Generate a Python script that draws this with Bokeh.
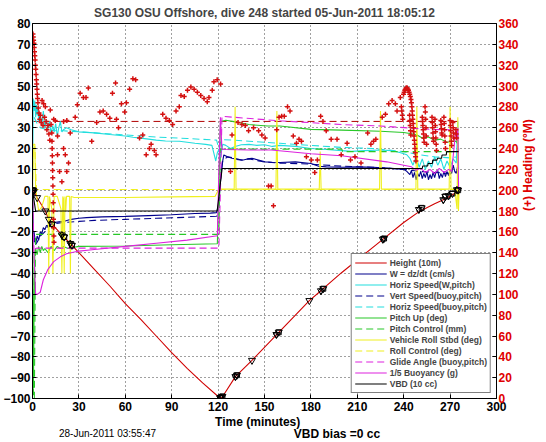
import math
from bokeh.plotting import figure
from bokeh.layouts import column
from bokeh.models import Range1d, LinearAxis, FixedTicker, Legend, LegendItem
from bokeh.core.properties import value
from bokeh.embed import file_html
from bokeh.resources import INLINE

FONT = "Liberation Sans"

# ---------------- data ----------------
title_text = "SG130 OSU Offshore, dive 248 started 05-Jun-2011 18:05:12"
xlabel_text = "Time (minutes)"
date_text = "28-Jun-2011 03:55:47"
vbd_text = "VBD bias =0 cc"
x_ticks = [0, 30, 60, 90, 120, 150, 180, 210, 240, 270, 300]
y_ticks = [-100, -90, -80, -70, -60, -50, -40, -30, -20, -10, 0, 10, 20, 30, 40, 50, 60, 70, 80]
h_ticks = [0, 20, 40, 60, 80, 100, 120, 140, 160, 180, 200, 220, 240, 260, 280, 300, 320, 340, 360]

# Height (10 m)
ht_t = [0, 0.5, 3, 8.3, 10.5, 12.6, 19, 24.4, 30, 40, 50, 60, 70, 80, 90, 100, 110, 121.5, 122.5,
        131.2, 141.9, 158.8, 179, 187, 200, 226.5, 240, 250.2, 260, 267.7, 272, 275.2]
ht_v = [0, 0, -3.6, -10, -14, -16.3, -21.5, -25.6, -30, -38, -46, -54.5, -62, -70, -78, -85.5, -92.5, -100, -99.5,
        -89.5, -81.7, -68.6, -53, -47.9, -39.5, -23.6, -15.5, -10.2, -6.5, -3.9, -2, 0]

# GC markers on the height trace
gc_t = [0.3, 0.8, 3, 8.3, 10.5, 12.6, 19, 20.5, 24.4, 25.5, 121.3, 122, 122.8, 131.2, 132.2, 141.9, 157.7, 159.2,
        179, 186.5, 188, 226.5, 227.3, 249.8, 251.6, 265.6, 266.9, 269, 271.5, 274.4, 275.2]
gc_v = [0, -0.5, -3.6, -10, -14, -16.3, -21.5, -22.5, -25.6, -26.5, -99.7, -99.5, -99, -89.5, -88.8, -81.7, -69.3, -68.2,
        -53, -48.3, -47.3, -23.6, -23.2, -9.3, -8.5, -4.6, -3.0, -2.7, -1.6, 0.2, 0]
sq_t = [0.3, 12.6, 20.5, 25.5, 121.3, 122.8, 132.2, 159.2, 188, 227.3, 251.6, 266.9, 271.5, 275.2]
sq_v = [0, -16.3, -22.5, -26.5, -99.7, -99, -88.8, -68.2, -47.3, -23.2, -8.5, -3.0, -1.6, 0]
dm_t = [0.8, 19, 24.4, 122, 131.2, 157.7, 186.5, 226.5, 249.8, 265.6, 269, 274.4]
dm_v = [-0.5, -21.5, -25.6, -99.5, -89.5, -69.3, -48.3, -23.6, -9.3, -4.6, -2.7, 0.2]

# W = dz/dt (cm/s)
w_t = [0, 0.4, 1, 1.5, 2, 3, 4, 5, 6, 7, 8, 9, 10, 11, 12, 14, 17, 20, 25, 30,
       35, 45, 60, 75, 90, 105, 115, 119, 120.5, 121.5, 122.5, 123.7, 126, 129, 132, 135.5, 139, 141.9, 146, 150.4,
       155, 160, 170, 180, 185, 190, 200, 210, 220, 230, 240, 242, 244,
       245, 246, 247, 248, 249, 250, 251, 252, 253, 254, 255, 256, 257, 258, 259, 260,
       261, 262, 263, 264, 265, 266, 267, 268, 269, 270, 271, 272, 273, 274, 275, 275.5]
w_v = [0, -18, -25, -23, -26, -22, -24, -20, -21, -18, -19, -17, -17, -16, -16.5, -15.5, -15.2, -15, -14, -13.5,
       -13.2, -12.8, -12.6, -12.2, -11.8, -11.2, -11, -10.8, -6, 4, 12, 16.9, 16, 15.3, 14.8, 14.4, 15, 15.3, 14.5, 13.6,
       13.4, 13.3, 13.6, 12.8, 11.5, 11.2, 11, 11.2, 11, 10.6, 10, 9, 7.5,
       9.5, 6, 8.5, 5, 8, 6.5, 9, 5.5, 8, 6, 9, 5, 7.5, 5.5, 8.5, 6,
       9, 9.5, 5.5, 8, 6, 9, 6.5, 9, 7, 10, 8, 12, 9, 8, 12, 20]

# Horiz speed (W, pitch)
hs_t = [0, 0.5, 1, 1.5, 2, 2.5, 3, 3.5, 4, 5, 6, 7, 8, 9, 10, 11, 12, 13, 14, 15,
        16, 17, 18, 19, 20, 22, 25, 30, 40, 50, 60, 65, 70, 80, 86, 95, 105, 112, 116, 117.5,
        118.5, 119.5, 120.5, 121.5, 123, 125, 128, 131, 135, 140, 145, 150, 155, 160, 170, 180, 190, 200, 206, 215,
        225, 232, 238, 242, 244, 246, 248, 250, 252, 254, 256, 258, 260, 262, 264, 266, 268, 270, 272, 274, 275, 275.5]
hs_v = [0, 44, 38, 43, 35, 41, 36, 40, 33, 37, 31, 38, 30, 34, 29, 33, 27, 31, 28, 32,
        26, 30, 33, 28, 29, 30, 29, 28, 27.5, 26.7, 26, 25.4, 25, 24, 23.6, 23.5, 22.5, 22, 21.5, 17,
        14, 18, 19.5, 16, 22, 21.5, 20, 21, 21.8, 22, 21.5, 21.8, 21, 21.5, 21, 20, 19.5, 19, 18.6, 19,
        19.3, 19, 18, 17, 15.3, 12, 16, 11, 15, 10, 14, 11, 16, 12, 15, 10, 14, 11, 15, 13, 33, 10]

# Vert speed (buoy, pitch)
vs_t = [1, 2, 3, 5, 8, 10, 15, 20, 30, 40, 60, 80, 100, 119, 120.5, 121.5, 123, 126, 130, 135, 140,
        150, 160, 180, 200, 220, 240, 250, 260, 270, 275]
vs_v = [-20, -26, -25, -22, -20, -17, -16, -15.5, -15, -14.5, -14, -13.5, -13, -12.5, -8, 5, 14, 16, 15.5, 14.5, 15,
        13.5, 13, 12.5, 11.5, 11, 10, 9, 8.5, 8, 9]

# Horiz speed (buoy, pitch)
hb_t = [1, 3, 5, 10, 15, 20, 30, 40, 60, 80, 100, 119, 120.5, 121.5, 123, 130, 140, 150, 160, 180, 200, 220,
        240, 250, 260, 270, 275]
hb_v = [35, 32, 30, 29, 28.5, 28.5, 28, 27.5, 26.5, 25.5, 24.8, 24, 20, 23, 24.2, 24, 23.5, 23, 22.5, 21.5, 20.5, 20,
        18.5, 17, 16, 15.5, 16]

# Pitch up (deg)
pu_t = [0, 0.3, 0.6, 1, 1.5, 2, 3, 4, 5, 6, 7, 8, 10, 12, 14, 16, 18, 20, 23, 26,
        30, 60, 90, 119.5, 120.5, 121.5, 125, 130, 140, 152, 160, 180, 200, 225, 240, 248, 252, 256, 260, 264,
        268, 272, 274, 275]
pu_v = [0, -40, -95, -60, -30, -28, -31, -27, -30, -27, -29, -28, -30, -27, -29, -27, -28, -27, -28, -27.5,
        -27, -26.8, -26.2, -25.7, 0, 33, 33.6, 32.9, 31.5, 30.8, 30.8, 29.2, 28.8, 28.3, 27.7, 26.7, 25, 25.5, 24, 24.5,
        23, 23.5, 23.4, 22]

# Pitch control (mm)
pc_t = [0, 0.6, 1.2, 2, 120.5, 121.5, 200, 200.5, 275]
pc_v = [0, -100, -100, -21.2, -21.2, 19.7, 19.7, 18.5, 18.5]

# Vehicle roll stbd (deg)
rl_t = [0, 0.5, 1.5, 2, 3, 4, 6, 8, 10, 10.5, 11, 12.5, 13.2, 14, 16, 18.4, 19, 19.6, 20, 20.5,
        21, 21.5, 22, 24, 24.5, 25, 27, 60, 90, 118, 120.5, 122, 130.4, 131, 131.6, 157.4, 158, 158.6,
        185.4, 186, 186.6, 224.4, 225, 225.6, 247.9, 248.5, 249.1, 269.4, 270, 270.6, 273, 274.5, 275, 275.4, 275.8]
rl_v = [0, 20, 21, 2, -5, -10, -8, -3, -3, -40, -3, -9, -40, -3, -3, -9, -40, -3, -4, -40,
        -3, -10, -3, -3, -40, -3, -3.5, -3.5, -3.2, -3, 0.5, 0.5, 0.5, 40, 0.5, 0.5, 38, 0.5,
        0.5, 18.5, 0.5, 0.5, 38, 0.5, 0.5, 40, 0.5, 0.5, 40, 0.5, 0.5, -9, 35, -10, 0]

# Roll control (deg)
rc_t = [0, 0.5, 1.5, 2.5, 275.5]
rc_v = [0, 22, 22, 0.3, 0.3]

# Glide angle (buoy, pitch)
ga_t = [0, 1, 2, 3, 120.5, 121.5, 122.5, 130, 160, 200, 225, 250, 260, 270, 275]
ga_v = [0, -30, -28, -27.8, -27.8, 0, 35.5, 35, 33.3, 31.5, 30.8, 29.5, 29.1, 29, 28]

# 1/5 buoyancy (g)
by_t = [0, 0.5, 1, 2, 3, 5, 7, 10, 13.7, 18, 22, 28.6, 40, 60, 80, 100, 118.4, 119.5, 120.5, 121.5,
        122.5, 125, 140, 154.5, 180, 200, 229, 240, 245, 248, 251, 254, 257, 260, 263, 266, 269, 271, 272.5, 273.5,
        274.5, 275, 275.5]
by_v = [0, -30, -31, -50, -50, -49, -43, -38, -34.3, -32, -30.5, -29.4, -28.5, -27, -25.5, -24, -22, -22, 10, 35,
        19.7, 19.5, 19.3, 19.3, 17.5, 16.5, 13.6, 12, 11.2, 9.6, 10.5, 8.5, 10, 8, 10.5, 8.5, 10, 9, 20, 28,
        25, 30, 0]

# VBD (10 cc)
vbd_t = [0, 1, 2, 119.4, 122.6, 252, 252.3, 255.5, 255.8, 258.5, 258.8, 261.5, 261.8, 264.5, 264.8, 267.5, 267.8, 275.5]
vbd_v = [0, -5, -10, -10, 10.4, 10.4, 11.6, 11.6, 12.8, 12.8, 14.4, 14.4, 15.3, 15.3, 16.9, 16.9, 18.5, 18.5]

# Target heading (deg)
tgt_t = [0, 275.5]
tgt_h = [266, 266]

# Heading (deg M)
hd_t1 = [0.3, 0.5, 0.7, 0.9, 1.1, 1.3, 1.5, 1.7, 1.9, 2.1, 2.3, 2.5, 2.7, 2.9, 3.1, 3.3, 3.5, 3.8, 4.2, 4.7,
         5.1, 5.6, 6.2, 6.8, 7.2, 7.8, 8.3, 8.8, 9.3, 10.0, 10.6, 11.2, 11.5, 12.0, 12.5, 13.7]
hd_h1 = [350, 347, 344, 341, 337, 333, 329, 325, 320, 316, 311, 306, 302, 297, 292, 288, 284, 279, 274, 268,
         272, 265, 286, 262, 283, 270, 280, 266, 258, 262, 254, 248, 277, 263, 255, 268]
hd_t2 = [12.6, 12.7, 12.8, 12.9, 13.0, 13.1, 13.2, 13.3, 13.4, 13.5, 13.6, 13.7, 13.8, 13.9]
hd_h2 = [247, 240, 233, 226, 219, 212, 204, 196, 188, 180, 172, 164, 156, 150]
hd_t3 = [14.7, 20.1, 22.2, 16.2, 16.2, 20.1, 21.2, 23.3, 22.2, 17.5, 19.0, 24.4, 27.6, 29.0, 30.8, 32.9, 34.6, 36.1,
         38.3, 41.5, 43.6, 45.7, 47.9, 50.0, 51.7, 53.7, 55.6, 54.3, 57.5, 60.7, 62.8, 59.6, 64.9, 66.7, 69.2, 71.3,
         73.5, 75.6, 76.7, 78.8, 79.9, 84.2, 86.3, 88.5, 90.6, 92.8, 94.9, 96.0, 98.1, 100.2, 102.4, 104.5, 106.6,
         108.8, 110.9, 113.0, 114.1, 116.2, 117.3, 119.4, 121.6, 128.0, 129.0, 132.9, 135.4, 137.6, 139.7, 142.9,
         146.2, 148.3, 150.4, 152.6]
hd_h3 = [267, 266, 267, 252, 234, 240, 234, 226, 218, 218, 208, 255, 270, 282, 293, 289, 289, 298,
         247, 265, 275, 276, 273, 269, 293, 303, 260, 268, 283, 284, 297, 275, 307, 306, 250, 253,
         234, 240, 244, 238, 234, 273, 269, 267, 263, 276, 280, 291, 290, 296, 299, 297, 294,
         291, 288, 285, 289, 296, 304, 306, 302, 218, 253, 265, 263, 262, 257, 260,
         257, 253, 250, 204]
hd_t4 = [154.3, 155.8, 157.9, 159.4, 161.1, 162.8, 164.9, 166.5, 168.6, 170.7, 172.3, 173.9, 177.1, 180.3, 182.5,
         184.2, 186.3, 187.8, 189.9, 193.1, 196.9, 199.6, 203.4, 205.6, 208.5, 212.4, 216.7, 218.8, 220.5, 222.0,
         226.1, 228.2, 230.3, 232.5, 234.6, 235.7, 237.8]
hd_h4 = [204, 185, 258, 270, 271, 271, 280, 276, 252, 245, 249, 247, 232, 229, 217,
         229, 271, 266, 257, 249, 249, 234, 245, 229, 232, 226, 255, 244, 247, 249,
         270, 273, 283, 286, 283, 276, 289]
hd_t5 = [238.5, 238.8, 239.1, 239.4, 239.9, 240.3, 240.7, 241.1, 241.5, 241.9, 242.3, 242.7, 243.1, 243.5, 243.9,
         244.3, 244.7, 245.0, 245.3, 245.5, 245.7, 245.9, 246.1, 246.3, 246.5, 246.7, 246.9, 247.1, 247.3, 247.5,
         247.7, 247.9]
hd_h5 = [280, 276, 272, 268, 292, 294, 296, 297, 298, 298, 298, 297, 296, 294, 292,
         290, 287, 284, 280, 276, 272, 268, 264, 260, 256, 252, 248, 244, 240, 236,
         232, 228]
hd_t6 = [243.8, 244, 244.2, 244.4, 244.6, 252, 252.2, 252.4, 252.6, 252.8, 253, 253.2,
         253.8, 254, 254.2, 254.4, 254.6, 254.8, 258.3, 258.5, 258.7, 258.9, 259.1, 259.3,
         260.2, 260.4, 260.6, 260.8, 261, 261.2, 264, 264.2, 264.4, 264.6, 264.8,
         266, 266.2, 266.4, 266.6, 266.8, 267, 270, 270.2, 270.4, 270.6, 270.8, 271,
         271.8, 272, 272.2, 272.4, 273.8, 274, 274.2]
hd_h6 = [272, 267, 262, 257, 253, 270, 266, 262, 258, 254, 250, 246,
         280, 275, 268, 260, 252, 244, 270, 265, 260, 255, 250, 247,
         268, 262, 256, 250, 244, 238, 267, 263, 259, 255, 253,
         270, 264, 258, 252, 246, 240, 267, 262, 257, 252, 247, 243,
         265, 260, 255, 250, 258, 254, 250]

hd_t = hd_t1 + hd_t2 + hd_t3 + hd_t4 + hd_t5 + hd_t6
hd_h = hd_h1 + hd_h2 + hd_h3 + hd_h4 + hd_h5 + hd_h6

legend_labels = ["Height (10m)", "W = dz/dt (cm/s)", "Horiz Speed(W,pitch)", "Vert Speed(buoy,pitch)",
                 "Horiz Speed(buoy,pitch)", "Pitch Up (deg)", "Pitch Control (mm)", "Vehicle Roll Stbd (deg)",
                 "Roll Control (deg)", "Glide Angle (buoy,pitch)", "1/5 Buoyancy (g)", "VBD (10 cc)"]

# ---------------- styles ----------------
RED = "#d00000"
NAVY = "#00008c"
CYAN = "#22dede"
GREEN = "#28c828"
YELLOW = "#f0f020"
MAGENTA = "#dd22dd"
BLACK = "#000000"
AXRED = "#e00000"
W_TOTAL = 544


def fit(a, b):
    n = min(len(a), len(b))
    return a[:n], b[:n]


p = figure(width=W_TOTAL, height=413, x_range=Range1d(0, 300), y_range=Range1d(-100, 80),
           output_backend="svg", toolbar_location=None,
           min_border_left=4, min_border_right=2, min_border_top=0, min_border_bottom=0)
p.extra_y_ranges = {"heading": Range1d(0, 360)}
p.background_fill_color = "white"
p.border_fill_color = "white"
p.outline_line_color = "black"
p.outline_line_width = 1
p.outline_line_alpha = 1

p.title.text = title_text
p.title.align = "center"
p.title.text_font = FONT
p.title.text_font_style = "bold"
p.title.text_font_size = "12px"
p.title.standoff = 7

p.xaxis.ticker = FixedTicker(ticks=x_ticks)
p.yaxis.ticker = FixedTicker(ticks=y_ticks)
p.xgrid.ticker = FixedTicker(ticks=x_ticks)
p.ygrid.ticker = FixedTicker(ticks=y_ticks)
for g in (p.xgrid[0], p.ygrid[0]):
    g.grid_line_color = "black"
    g.grid_line_dash = "1 3"
    g.grid_line_alpha = 0.75
    g.grid_line_width = 1

for ax in (p.xaxis[0], p.yaxis[0]):
    ax.major_label_text_font = FONT
    ax.major_label_text_font_style = "bold"
    ax.major_label_text_font_size = "12px"
    ax.major_label_text_color = "black"
    ax.major_tick_in = 4
    ax.major_tick_out = 0
    ax.minor_tick_line_color = None
    ax.axis_line_color = "black"
    ax.major_label_standoff = 2
p.xaxis.major_label_standoff = 3

ra = LinearAxis(y_range_name="heading", ticker=FixedTicker(ticks=h_ticks), axis_label="(+) Heading (\u00b0M)")
ra.major_label_text_font = FONT
ra.major_label_text_font_style = "bold"
ra.major_label_text_font_size = "12px"
ra.major_label_text_color = AXRED
ra.major_tick_in = 4
ra.major_tick_out = 0
ra.minor_tick_line_color = None
ra.axis_line_color = "black"
ra.major_label_standoff = 2
ra.axis_label_text_font = FONT
ra.axis_label_text_font_style = "bold"
ra.axis_label_text_font_size = "12px"
ra.axis_label_text_color = AXRED
ra.axis_label_standoff = 6
try:
    ra.axis_label_orientation = math.pi / 2
except Exception:
    pass
p.add_layout(ra, "right")

# ---------------- glyphs ----------------
p.line(*fit(tgt_t, tgt_h), y_range_name="heading", line_color="#b00000", line_width=1, line_dash="7 4")

series = [
    (ht_t, ht_v, RED, "solid"),
    (w_t, w_v, NAVY, "solid"),
    (hs_t, hs_v, CYAN, "solid"),
    (vs_t, vs_v, NAVY, "7 4"),
    (hb_t, hb_v, CYAN, "7 4"),
    (pu_t, pu_v, GREEN, "solid"),
    (pc_t, pc_v, GREEN, "7 4"),
    (rl_t, rl_v, YELLOW, "solid"),
    (rc_t, rc_v, YELLOW, "7 4"),
    (ga_t, ga_v, MAGENTA, "7 4"),
    (by_t, by_v, MAGENTA, "solid"),
    (vbd_t, vbd_v, BLACK, "solid"),
]
renderers = []
for t, v, c, d in series:
    tt, vv = fit(t, v)
    renderers.append(p.line(tt, vv, line_color=c, line_width=1.1, line_dash=d))

p.scatter(*fit(gc_t, gc_v), marker="inverted_triangle", size=7, fill_color=None, line_color="black", line_width=1)
p.scatter(*fit(sq_t, sq_v), marker="square", size=5, fill_color=None, line_color="black", line_width=1)
p.scatter(*fit(dm_t, dm_v), marker="diamond", size=7, fill_color=None, line_color="black", line_width=1)

p.scatter(*fit(hd_t, hd_h), y_range_name="heading", marker="cross", size=5, line_color="#d41010", line_width=1.5)

legend = Legend(items=[LegendItem(label=lab, renderers=[r]) for lab, r in zip(legend_labels, renderers)],
                location="bottom_right")
legend.label_text_font = FONT
legend.label_text_font_style = "bold"
legend.label_text_font_size = "8.5px"
legend.glyph_width = 32
legend.glyph_height = 11
legend.label_height = 11
legend.label_standoff = 3
legend.spacing = 0
legend.padding = 3
legend.margin = 5
legend.border_line_color = "black"
legend.border_line_width = 1
legend.background_fill_color = "white"
legend.background_fill_alpha = 1
p.add_layout(legend)

# ---------------- footer strip: x-axis title, date stamp and VBD bias ----------------
foot = figure(width=W_TOTAL, height=28, x_range=Range1d(0, W_TOTAL), y_range=Range1d(0, 28),
              output_backend="svg", toolbar_location=None, x_axis_location=None, y_axis_location=None,
              min_border=0)
foot.outline_line_color = None
foot.grid.visible = False
foot.text(x=[264], y=[20], text=[xlabel_text], text_font=value(FONT), text_font_size="12px",
          text_font_style="bold", text_align="center", text_baseline="middle", text_color="black")
foot.text(x=[31], y=[8], text=[date_text], text_font=value(FONT), text_font_size="10px",
          text_align="left", text_baseline="middle", text_color="black")
foot.text(x=[357], y=[8], text=[vbd_text], text_font=value(FONT), text_font_size="12px",
          text_font_style="bold", text_align="center", text_baseline="middle", text_color="black")

layout = column(p, foot, spacing=0)
open("out.html", "w").write(file_html(layout, INLINE))
